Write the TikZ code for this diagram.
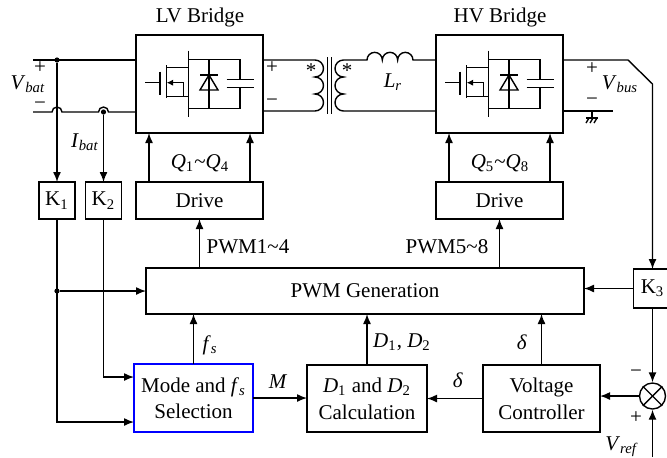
\documentclass[tikz,border=0pt]{standalone}
\usepackage{fontspec}
\setmainfont{Liberation Serif}
\usetikzlibrary{arrows.meta,positioning}
\tikzset{
        >={Latex[length=5pt,width=4pt]}, % filled arrow heads
        blk/.style={draw, line width=0.7pt, inner sep=0pt, outer sep=0pt, align=center}, % power stage boxes
        ctrl/.style={draw, line width=1.1pt, inner sep=0pt, outer sep=0pt, align=center}, % control blocks
        dot/.style={circle, fill, inner sep=0pt, minimum size=2.6pt},
}
\newcommand{\sig}[2]{\textit{#1}\textsubscript{\textit{#2}}}
% switch symbol inside a bridge box
\newcommand{\bridgesym}[1]{%
\begin{scope}[shift={(#1.center)}]
\draw (-54.5,-1.3) -- (-39.5,-1.3);
\draw (-39.5,-12.3) -- (-39.5,11);
\draw (-32.8,-19) -- (-32.8,14.3);
\draw (-32.8,-16.7) -- (-11.2,-16.7);
\draw (-32.8,12.7) -- (-11.2,12.7);
\draw (-11.2,-33.3) -- (-11.2,33.3);
\draw[-{Latex[length=3.2pt,width=3.2pt]}] (-16,12.7) -- (-16,-1.3) -- (-32.8,-1.3);
\draw (-11.2,-24.7) -- (40.5,-24.7) -- (40.5,-4.7);
\draw (-11.2,24.3) -- (40.5,24.3) -- (40.5,3.3);
\draw (27,-4.7) -- (54,-4.7);
\draw (27,3.3) -- (54,3.3);
\draw (9.5,-24.7) -- (9.5,24.3);
\draw (0.5,-9) -- (18.5,-9);
\draw (9.5,-9) -- (0.5,6) -- (18.5,6) -- cycle;
\end{scope}}

\begin{document}
\begin{tikzpicture}[x=0.5pt,y=-0.5pt,line width=0.7pt,font=\fontsize{10.5}{13.3}\selectfont]
\useasboundingbox (0,0) rectangle (667,457);

% power stage
\node[blk, minimum width=63.5pt, minimum height=49pt] (lvbr) at (199.5,84) {};
\node[blk, minimum width=63.5pt, minimum height=49pt] (hvbr) at (499.5,84) {};
\node (lvname) at (200,17) {LV Bridge};
\node (hvname) at (500,17) {HV Bridge};
\bridgesym{lvbr}
\bridgesym{hvbr}

% battery side
\coordinate (bp) at (33,60);
\coordinate (bn) at (33,112);
\draw (bp) -- (bp -| lvbr.west);
\draw (bn) -- (52,112) arc[start angle=180,end angle=0,radius=2.5pt] -- (98.5,112)
  arc[start angle=180,end angle=0,radius=2.5pt] -- (bn -| lvbr.west);
\node[dot] (vb) at (57,60) {};
\node[dot] (ib) at (103.5,112) {};
\node (bplus) at (40,68) {+};
\node (bminus) at (40,106) {−};
\node (vbat) at (28,84) {\sig{V}{bat}};
\node (ibat) at (85,142) {\sig{I}{bat}};

% transformer and inductor
\draw (263,60) -- (315,60) arc[start angle=90,end angle=-90,radius=4.25pt]
  arc[start angle=90,end angle=-90,radius=4.25pt]
  arc[start angle=90,end angle=-90,radius=4.25pt] -- (263,111);
\draw (327.5,57) -- (327.5,114);
\draw (331.5,57) -- (331.5,114);
\draw (436,111) -- (343.5,111) arc[start angle=-90,end angle=-270,radius=4.25pt]
  arc[start angle=-90,end angle=-270,radius=4.25pt]
  arc[start angle=-90,end angle=-270,radius=4.25pt] -- (367,60)
  arc[start angle=180,end angle=0,radius=3.83pt]
  arc[start angle=180,end angle=0,radius=3.83pt]
  arc[start angle=180,end angle=0,radius=3.83pt] -- (436,60);
\node (pplus) at (272,68) {+};
\node (pminus) at (272,103) {−};
\node (star1) at (311,71) {*};
\node (star2) at (347,71) {*};
\node (lr) at (393,82) {\sig{L}{r}};

% bus side
\draw (563,111) -- (613,111);
\draw (592,111) -- (592,118);
\draw (586,118) -- (598,118);
\foreach \x in {589,593,597} \draw (\x,118) -- (\x-3,123);
\node (hplus) at (592,69) {+};
\node (hminus) at (592,102) {−};
\node (vbus) at (620,84) {\sig{V}{bus}};

% drives and sensors
\node[blk, minimum width=63.5pt, minimum height=18.5pt] (lvdrv) at (199.5,200.5) {Drive};
\node[blk, minimum width=63.5pt, minimum height=18.5pt] (hvdrv) at (499.5,200.5) {Drive};
\foreach \n in {lv,hv}{
  \draw[->] ([xshift=6.5pt]\n drv.north west) -- ([xshift=6.5pt]\n br.south west);
  \draw[->] ([xshift=-6.5pt]\n drv.north east) -- ([xshift=-6.5pt]\n br.south east);
}
\node (qlv) at (200,163) {\textit{Q}\textsubscript{1}\textasciitilde\textit{Q}\textsubscript{4}};
\node (qhv) at (500,163) {\textit{Q}\textsubscript{5}\textasciitilde\textit{Q}\textsubscript{8}};
\node[blk, minimum width=18pt, minimum height=18.5pt] (k1) at (57,200.5) {K\textsubscript{1}};
\node[blk, minimum width=18pt, minimum height=18.5pt] (k2) at (103.5,200.5) {K\textsubscript{2}};
\node[blk, minimum width=19pt, minimum height=19.5pt] (k3) at (652.5,288.5) {K\textsubscript{3}};
\draw[->] (vb) -- (k1);
\draw[->] (ib) -- (k2);
\draw[->] (563,60) -- (628,60) -- (652.5,84) -- (k3);

% control blocks
\node[ctrl, minimum width=219pt, minimum height=23pt] (pwm) at (365,291) {PWM Generation};
\node[ctrl, draw=blue, minimum width=59.5pt, minimum height=34pt] (mode) at (193.5,398) {Mode and \sig{f}{s}\\Selection};
\node[ctrl, minimum width=60pt, minimum height=33.5pt] (calc) at (367,398.5) {\textit{D}\textsubscript{1} and \textit{D}\textsubscript{2}\\Calculation};
\node[ctrl, minimum width=58.5pt, minimum height=33.5pt] (vc) at (541.5,398.5) {Voltage\\Controller};
\node[draw, circle, minimum size=13pt, inner sep=0pt] (sum) at (652.5,396) {};
\draw (sum.north east) -- (sum.south west);
\draw (sum.north west) -- (sum.south east);
\coordinate (vref) at (652.5,457);

\node[dot] (kb) at (57,291) {};
\draw[->] (kb) -- (pwm.west);
\draw[->] (k1.south) |- ([yshift=-12pt]mode.west);
\draw[->] (k2.south) |- ([yshift=10.5pt]mode.west);
\draw[->] (lvdrv.south |- pwm.north) -- (lvdrv.south);
\draw[->] (hvdrv.south |- pwm.north) -- (hvdrv.south);
\draw[->] (mode.north) -- (mode.north |- pwm.south);
\draw[->] (calc.north) -- (calc.north |- pwm.south);
\draw[->] (vc.north) -- (vc.north |- pwm.south);
\draw[->] (mode.east) -- (mode.east -| calc.west);
\draw[->] (vc.west) -- (vc.west -| calc.east);
\draw[->] (k3.west) -- (k3.west -| pwm.east);
\draw[->] (k3) -- (sum);
\draw[->] (sum) -- (sum -| vc.east);
\draw[->] (vref) -- (sum);

% signal labels
\node (pwm14) at (248,247) {PWM1\textasciitilde4};
\node (pwm58) at (447,247) {PWM5\textasciitilde8};
\node (fs) at (210,345) {\sig{f}{s}};
\node (dd) at (402,342) {\textit{D}\textsubscript{1}, \textit{D}\textsubscript{2}};
\node (dl1) at (522,342) {\textit{δ}};
\node (dl2) at (458,380) {\textit{δ}};
\node (m) at (278,382) {\textit{M}};
\node (sminus) at (636,374) {−};
\node (splus) at (636,418) {+};
\node (vreflbl) at (622,447) {\sig{V}{ref}};
\end{tikzpicture}
\end{document}
